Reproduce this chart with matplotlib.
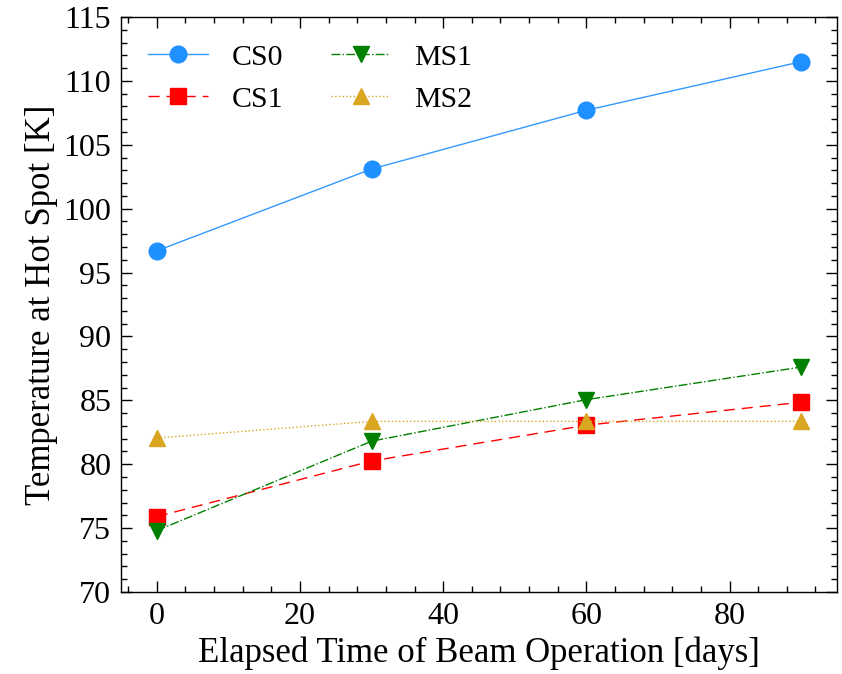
import matplotlib.pyplot as plt
from matplotlib.ticker import MultipleLocator

days = [0, 30, 60, 90]
cs0 = [96.7, 103.1, 107.7, 111.5]
cs1 = [75.9, 80.25, 83.05, 84.85]
ms1 = [74.8, 81.8, 85.05, 87.6]
ms2 = [82.05, 83.35, 83.35, 83.35]

plt.rcParams['font.family'] = ['Liberation Serif', 'DejaVu Serif']

fig = plt.figure(figsize=(8.42, 6.74), dpi=100)
ax = fig.add_axes([0.1437, 0.1217, 0.8503, 0.8531])

ax.plot(days, cs0, '-', color='#3399ff', marker='o', mfc='#1e90ff', mec='#1e90ff',
        ms=12, lw=1.0, label='CS0')
ax.plot(days, cs1, '--', color='red', marker='s', ms=12, lw=1.0, dashes=(8, 5), label='CS1')
ax.plot(days, ms1, '-.', color='green', marker='v', ms=12, lw=1.0, label='MS1')
ax.plot(days, ms2, ':', color='goldenrod', marker='^', ms=12, lw=1.0, label='MS2')

ax.set_xlim(-5, 95)
ax.set_ylim(70, 115)
ax.xaxis.set_major_locator(MultipleLocator(20))
ax.xaxis.set_minor_locator(MultipleLocator(4))
ax.yaxis.set_major_locator(MultipleLocator(5))
ax.yaxis.set_minor_locator(MultipleLocator(1))
ax.tick_params(which='both', direction='in', top=True, right=True, labelsize=23, width=1.0)
ax.tick_params(which='major', length=8, pad=7)
ax.tick_params(which='minor', length=4)
for s in ax.spines.values():
    s.set_linewidth(1.0)

ax.set_xlabel('Elapsed Time of Beam Operation [days]', fontsize=25, labelpad=4)
ax.set_ylabel('Temperature at Hot Spot [K]', fontsize=25, labelpad=4)
ax.legend(ncol=2, frameon=False, fontsize=21.5, loc='upper left', columnspacing=1.6,
          handlelength=2.0, borderaxespad=0.5)

fig.savefig('out.png', dpi=100)
